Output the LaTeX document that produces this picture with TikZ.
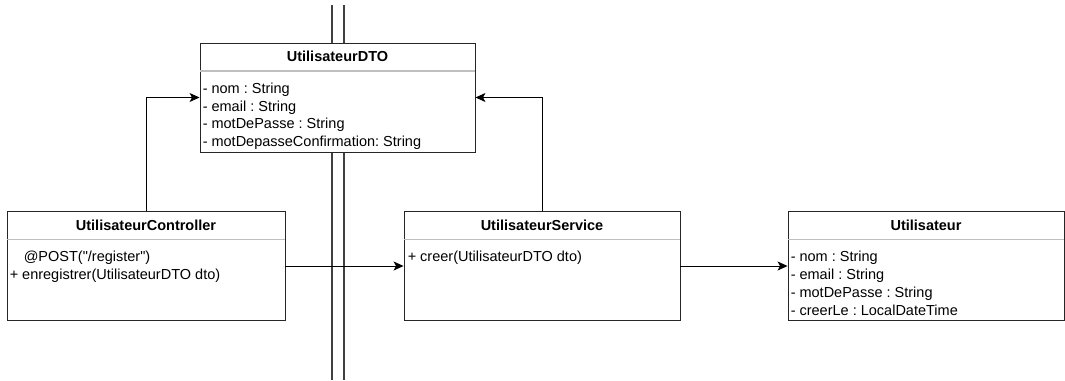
\documentclass[tikz,border=0pt]{standalone}
\usepackage{fontspec}
\setmainfont{Liberation Sans}
\usepackage{tikz}
\usetikzlibrary{arrows.meta}
\frenchspacing

\begin{document}
\begin{tikzpicture}[x=1pt, y=-1pt,
    classbox/.style={draw=black!85, line width=0.9pt, fill=white, minimum width=#1, minimum height=109pt, inner sep=0pt},
    classbox/.default=276pt,
    title/.style={font=\fontsize{14.5pt}{16pt}\selectfont\bfseries, inner sep=0pt},
    members/.style={font=\fontsize{14.5pt}{17.8pt}\selectfont, align=left, inner sep=0pt, anchor=north west},
    sepline/.style={draw=black!25, line width=1.2pt},
    wall/.style={draw=black!75, line width=1.1pt},
    arr/.style={draw=black, line width=0.9pt, -{Stealth[length=10pt, width=9pt, inset=2.5pt]}}]
    \useasboundingbox (0,0) rectangle (1065,380);
    % separation (double lines)
    \draw[wall] (332,5) -- (332,380);
    \draw[wall] (344,5) -- (344,380);
    % classes
    \node[classbox=275pt] (dto) at (337.5,97.5) {};
    \node[classbox=278pt] (ctrl) at (146,266) {};
    \node[classbox] (svc) at (542,266) {};
    \node[classbox] (user) at (926,266) {};
    \foreach \c in {dto,ctrl,svc,user}
        \draw[sepline] ([yshift=-28.5pt]\c.north west) -- ([yshift=-28.5pt]\c.north east);
    \node[title] (dtot) at ([yshift=-14pt]dto.north) {UtilisateurDTO};
    \node[title] (ctrlt) at ([yshift=-14pt]ctrl.north) {UtilisateurController};
    \node[title] (svct) at ([yshift=-14pt]svc.north) {UtilisateurService};
    \node[title] (usert) at ([yshift=-14pt]user.north) {Utilisateur};
    \node[members] (dtom) at ([xshift=3pt, yshift=-40pt]dto.north west)
        {- nom : String\\- email : String\\- motDePasse : String\\- motDepasseConfirmation: String};
    \node[members] (ctrlm) at ([xshift=3pt, yshift=-40pt]ctrl.north west)
        {\hspace*{14pt}@POST(\textquotedbl/register\textquotedbl)\\+ enregistrer(UtilisateurDTO dto)};
    \node[members] (svcm) at ([xshift=4pt, yshift=-40pt]svc.north west)
        {+ creer(UtilisateurDTO dto)};
    \node[members] (userm) at ([xshift=3pt, yshift=-40pt]user.north west)
        {- nom : String\\- email : String\\- motDePasse : String\\- creerLe : LocalDateTime};
    % links
    \draw[arr] (ctrl.north) |- (dto.west);
    \draw[arr] (svc.north) |- (dto.east);
    \draw[arr] (ctrl.east) -- (svc.west);
    \draw[arr] (svc.east) -- (user.west);
\end{tikzpicture}
\end{document}
